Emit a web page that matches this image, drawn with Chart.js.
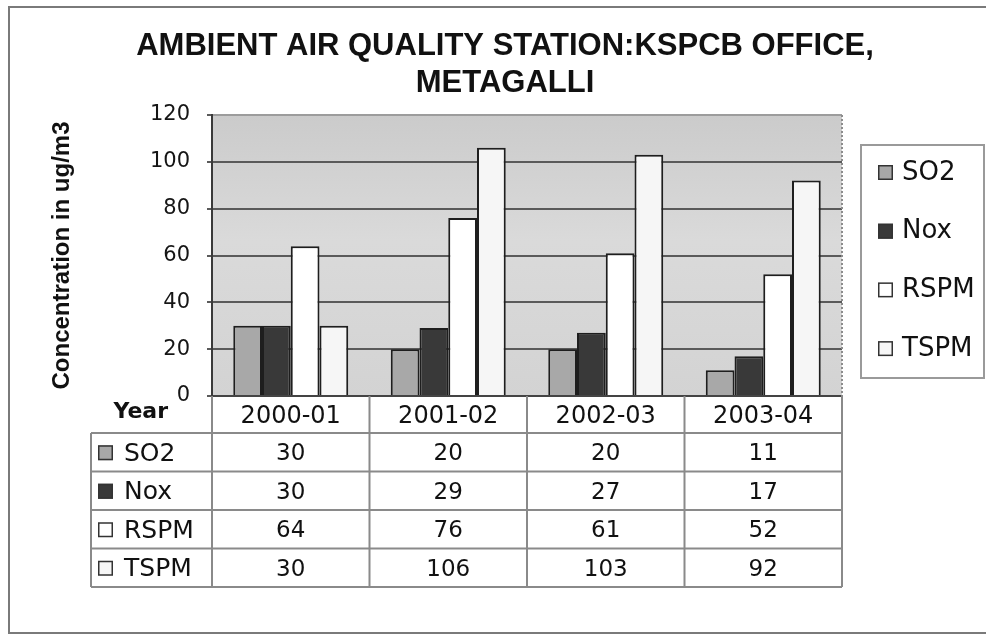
<!DOCTYPE html>
<html>
<head>
<meta charset="utf-8">
<title>Ambient Air Quality Station: KSPCB Office, Metagalli</title>
<script src="https://cdn.jsdelivr.net/npm/chart.js@4.4.0/dist/chart.umd.min.js"></script>
<style>
    html, body { margin: 0; padding: 0; background: #fff; }
    #wrap { position: relative; width: 986px; height: 636px; }
</style>
</head>
<body>
<div id="wrap"><canvas id="aq-chart"></canvas></div>
<script>
// Values
const years = ['2000-01', '2001-02', '2002-03', '2003-04'];
const so2 = [30, 20, 20, 11];
const nox = [30, 29, 27, 17];
const rspm = [64, 76, 61, 52];
const tspm = [30, 106, 103, 92];
const seriesNames = ['SO2', 'Nox', 'RSPM', 'TSPM'];
const yTicks = [0, 20, 40, 60, 80, 100, 120];
const titleLines = ['AMBIENT AIR QUALITY STATION:KSPCB OFFICE,', 'METAGALLI'];
const yTitle = 'Concentration in ug/m3';
const yearLabel = 'Year';

const seriesData = [so2, nox, rspm, tspm];
const fills = ['#a8a8a8', '#393939', '#ffffff', '#f6f6f6'];

const plainFont = '"DejaVu Sans", sans-serif';

// Background of the plot area and its dotted right edge
const plotBackground = {
    id: 'plotBackground',
    beforeDraw(chart) {
        const { ctx, chartArea: a } = chart;
        const g = ctx.createLinearGradient(0, a.top, 0, a.bottom);
        g.addColorStop(0, '#cbcbcb');
        g.addColorStop(0.45, '#dadada');
        g.addColorStop(1, '#d3d3d3');
        ctx.save();
        ctx.fillStyle = g;
        ctx.fillRect(a.left, a.top, a.right - a.left, a.bottom - a.top);
        ctx.restore();
    },
    afterDatasetsDraw(chart) {
        const { ctx, chartArea: a } = chart;
        ctx.save();
        ctx.strokeStyle = '#8c8c8c';
        ctx.lineWidth = 2;
        ctx.setLineDash([2, 2]);
        ctx.beginPath();
        ctx.moveTo(a.right, a.top);
        ctx.lineTo(a.right, a.bottom);
        ctx.stroke();
        ctx.restore();
    }
};

// Small square as used in legend and table
function drawSwatch(ctx, x, y, i) {
    ctx.fillStyle = fills[i];
    ctx.fillRect(x, y, 15, 15);
    ctx.strokeStyle = '#333';
    ctx.lineWidth = 1.5;
    ctx.strokeRect(x + 0.75, y + 0.75, 13.5, 13.5);
}

// Outer frame, title, legend box and data table
const extras = {
    id: 'extras',
    afterDraw(chart) {
        const { ctx, chartArea: a } = chart;
        const xs = chart.scales.x;
        ctx.save();

        // frame
        ctx.strokeStyle = '#7a7a7a';
        ctx.lineWidth = 2;
        ctx.beginPath();
        ctx.moveTo(986, 7); ctx.lineTo(9, 7); ctx.lineTo(9, 633); ctx.lineTo(986, 633);
        ctx.stroke();

        // title
        ctx.fillStyle = '#111';
        ctx.font = 'bold 31px "Liberation Sans", Arial, sans-serif';
        ctx.textAlign = 'center';
        ctx.textBaseline = 'alphabetic';
        ctx.fillText(titleLines[0], 505, 55);
        ctx.fillText(titleLines[1], 505, 92);

        // legend
        ctx.strokeStyle = '#9a9a9a';
        ctx.lineWidth = 2;
        ctx.strokeRect(861, 145, 123, 233);
        ctx.font = '26px ' + plainFont;
        ctx.textAlign = 'left';
        ctx.textBaseline = 'middle';
        seriesNames.forEach((name, i) => {
            const y = 172 + i * 58.7;
            drawSwatch(ctx, 878, y - 7, i);
            ctx.fillStyle = '#111';
            ctx.fillText(name, 902, y + 1);
        });

        // data table
        const colW = (xs.right - xs.left) / years.length;
        const headTop = a.bottom;
        const headH = 37;
        const rowH = 38.5;
        const rowsTop = headTop + headH;
        const tableBottom = rowsTop + rowH * seriesNames.length;
        const labelLeft = 91;

        ctx.strokeStyle = '#8a8a8a';
        ctx.lineWidth = 2;
        ctx.beginPath();
        for (let c = 0; c <= years.length; c++) {
            const x = xs.left + c * colW;
            ctx.moveTo(x, headTop);
            ctx.lineTo(x, tableBottom);
        }
        ctx.moveTo(labelLeft, rowsTop);
        ctx.lineTo(labelLeft, tableBottom);
        for (let r = 0; r <= seriesNames.length; r++) {
            const y = rowsTop + r * rowH;
            ctx.moveTo(labelLeft, y);
            ctx.lineTo(xs.right, y);
        }
        ctx.stroke();

        ctx.fillStyle = '#111';
        ctx.textAlign = 'center';
        ctx.textBaseline = 'middle';
        ctx.font = '24px ' + plainFont;
        years.forEach((yr, c) => {
            ctx.fillText(yr, xs.getPixelForValue(c), headTop + headH / 2 + 2);
        });

        ctx.font = 'bold 22px ' + plainFont;
        ctx.textAlign = 'right';
        ctx.textBaseline = 'alphabetic';
        ctx.fillText(yearLabel, 168, 418);

        seriesNames.forEach((name, r) => {
            const cy = rowsTop + r * rowH + rowH / 2;
            drawSwatch(ctx, 98, cy - 7, r);
            ctx.fillStyle = '#111';
            ctx.font = '25px ' + plainFont;
            ctx.textAlign = 'left';
            ctx.textBaseline = 'middle';
            ctx.fillText(name, 124, cy + 2);
            ctx.font = '23px ' + plainFont;
            ctx.textAlign = 'center';
            seriesData[r].forEach((v, c) => {
                ctx.fillText(String(v), xs.getPixelForValue(c), cy + 2);
            });
        });

        ctx.restore();
    }
};

function initAirQualityChart() {
    const ctx = document.getElementById('aq-chart');
    if (!ctx) {
        console.error('canvas aq-chart not found');
        return;
    }

    new Chart(ctx, {
        type: 'bar',
        data: {
            labels: years,
            datasets: seriesNames.map((name, i) => ({
                label: name,
                data: seriesData[i],
                backgroundColor: fills[i],
                borderColor: '#1e1e1e',
                borderWidth: 2,
                borderSkipped: 'bottom',
                categoryPercentage: 0.73,
                barPercentage: 1.0
            }))
        },
        options: {
            responsive: true,
            maintainAspectRatio: false,
            animation: false,
            layout: {
                padding: { left: 9, right: 144, top: 115, bottom: 240 }
            },
            plugins: {
                legend: { display: false },
                title: { display: false },
                tooltip: { enabled: false }
            },
            scales: {
                x: {
                    grid: { display: false },
                    ticks: { display: false },
                    border: { display: true, color: '#444', width: 2 },
                    afterFit: (scale) => { scale.height = 0; }
                },
                y: {
                    min: yTicks[0],
                    max: yTicks[yTicks.length - 1],
                    ticks: {
                        stepSize: yTicks[1] - yTicks[0],
                        color: '#151515',
                        font: { family: plainFont, size: 21 },
                        padding: 17
                    },
                    grid: {
                        color: (c) => (c.tick && c.tick.value === yTicks[yTicks.length - 1]) ? '#9c9c9c' : '#5a5a5a',
                        lineWidth: 2,
                        tickLength: 5,
                        tickColor: '#5a5a5a'
                    },
                    border: { display: true, color: '#3a3a3a', width: 2 },
                    title: {
                        display: true,
                        text: yTitle,
                        color: '#111',
                        font: { family: '"Liberation Sans", Arial, sans-serif', size: 24, weight: 'bold', lineHeight: 1.2 },
                        padding: { top: 39, bottom: 0 }
                    },
                    afterFit: (scale) => { scale.width = 203; }
                }
            }
        },
        plugins: [plotBackground, extras]
    });
}

initAirQualityChart();
</script>
</body>
</html>
